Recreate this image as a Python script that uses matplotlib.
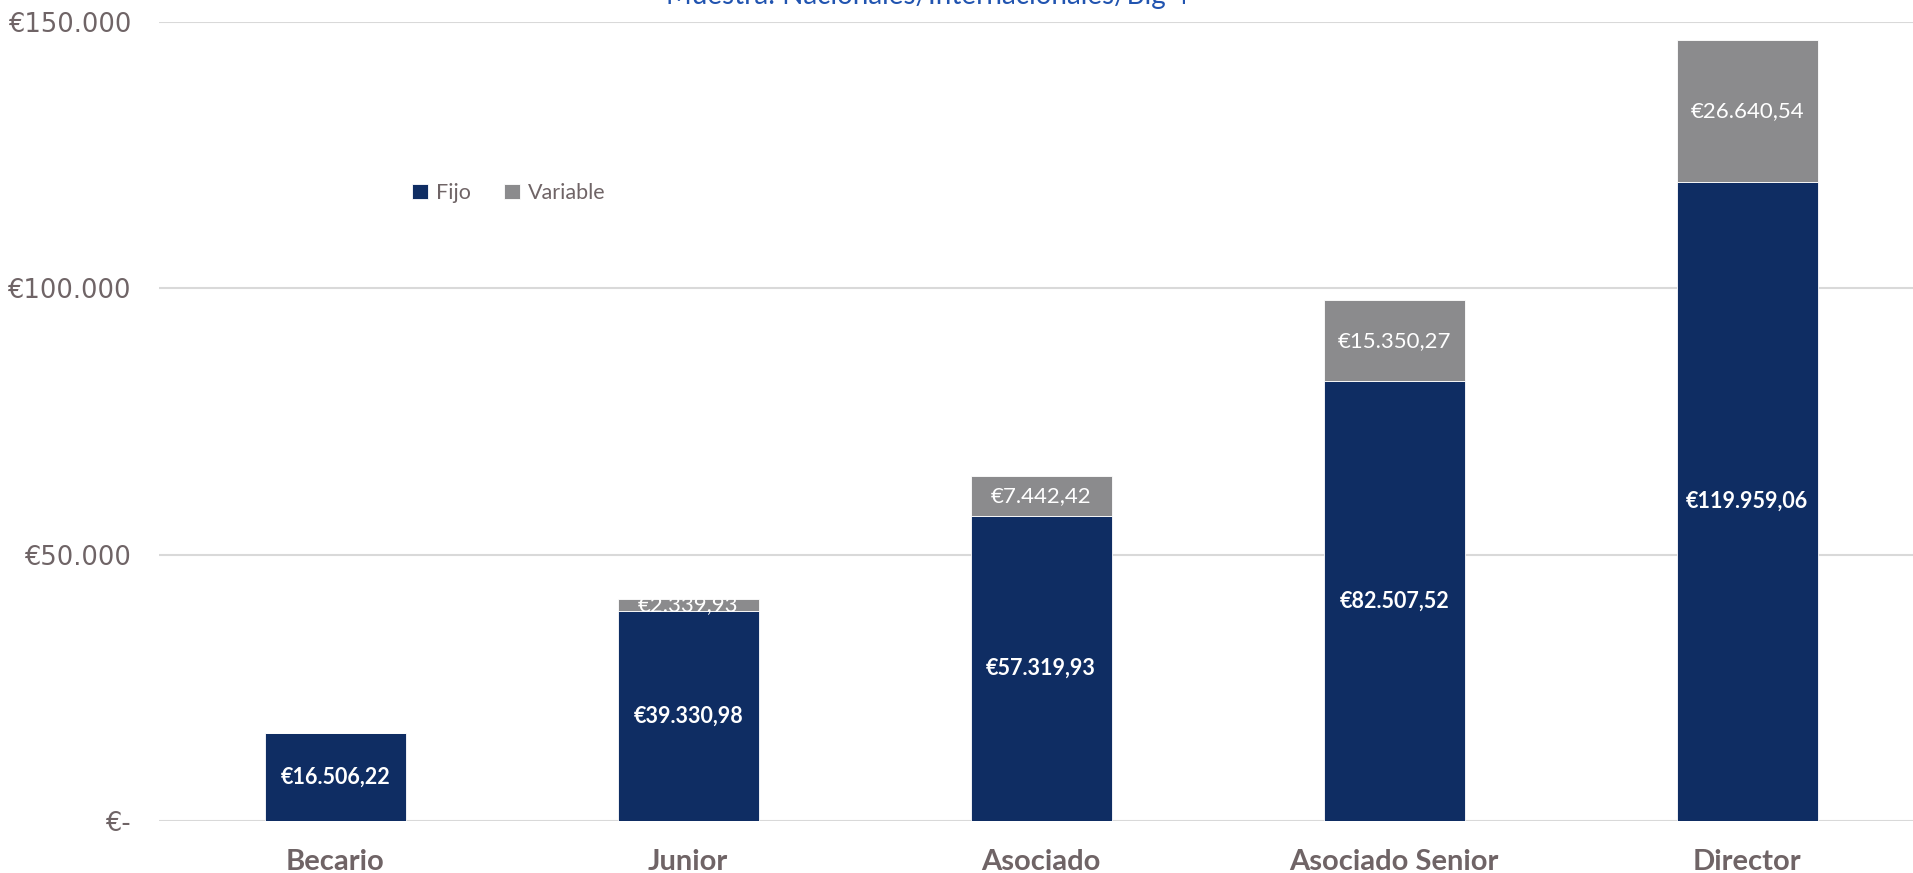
import matplotlib.pyplot as plt
import numpy as np
from matplotlib.ticker import FuncFormatter

categorias = ['Becario', 'Junior', 'Asociado', 'Asociado Senior', 'Director']
fijo = [16506.22, 39330.98, 57319.93, 82507.52, 119959.06]
variable = [0, 2339.93, 7442.42, 15350.27, 26640.54]
titulo = 'Muestra: Nacionales/Internacionales/Big 4'

color_fijo = '#0F2D63'
color_variable = '#8B8B8D'
color_texto = '#6F6466'


def euros(v):
    s = '{:,.2f}'.format(v)
    return '€' + s.replace(',', 'X').replace('.', ',').replace('X', '.')


def eje_y(v, pos):
    if v == 0:
        return '€-'
    return '€' + '{:,.0f}'.format(v).replace(',', '.')


plt.rcParams['font.family'] = ['Lato', 'DejaVu Sans']

fig = plt.figure(figsize=(19.13, 8.73), dpi=100)
ax = fig.add_axes([0.083, 0.0596, 0.917, 0.9152])

x = np.arange(len(categorias))
b1 = ax.bar(x, fijo, width=0.4, color=color_fijo, edgecolor='white',
            linewidth=0.6, label='Fijo', zorder=3)
b2 = ax.bar(x, variable, width=0.4, bottom=fijo, color=color_variable,
            edgecolor='white', linewidth=0.6, label='Variable', zorder=3)

for i in range(len(categorias)):
    ax.text(x[i], fijo[i] / 2, euros(fijo[i]), ha='center', va='center',
            color='white', fontsize=15.5, fontweight='bold', zorder=4)
    if variable[i] > 0:
        ax.text(x[i], fijo[i] + variable[i] / 2, euros(variable[i]),
                ha='center', va='center', color='white', fontsize=16, zorder=4)

ax.set_xlim(-0.5, 4.47)
ax.set_ylim(0, 150000)
ax.set_yticks([0, 50000, 100000, 150000])
ax.yaxis.set_major_formatter(FuncFormatter(eje_y))
ax.grid(axis='y', color='#D9D9D9', linewidth=1.5, zorder=0)
ax.set_axisbelow(True)
for s in ax.spines.values():
    s.set_visible(False)

ax.set_xticks(x)
ax.set_xticklabels(categorias, fontsize=21, fontweight='bold', color=color_texto)
ax.tick_params(axis='x', length=0, pad=20)
ax.tick_params(axis='y', length=0, pad=20, labelcolor=color_texto)
for t in ax.get_yticklabels():
    t.set_fontfamily('DejaVu Sans')
    t.set_fontsize(18.5)

ax.legend(handles=[b1, b2], loc='center left', bbox_to_anchor=(0.138, 0.786),
          ncol=2, frameon=False, fontsize=15.5, labelcolor=color_texto,
          handlelength=0.75, handleheight=0.75, handletextpad=0.4,
          columnspacing=1.5, borderpad=0)

fig.text(0.485, 0.9955, titulo, ha='center', va='baseline', fontsize=20,
         color='#2154B0')

fig.savefig('out.png', dpi=100)
